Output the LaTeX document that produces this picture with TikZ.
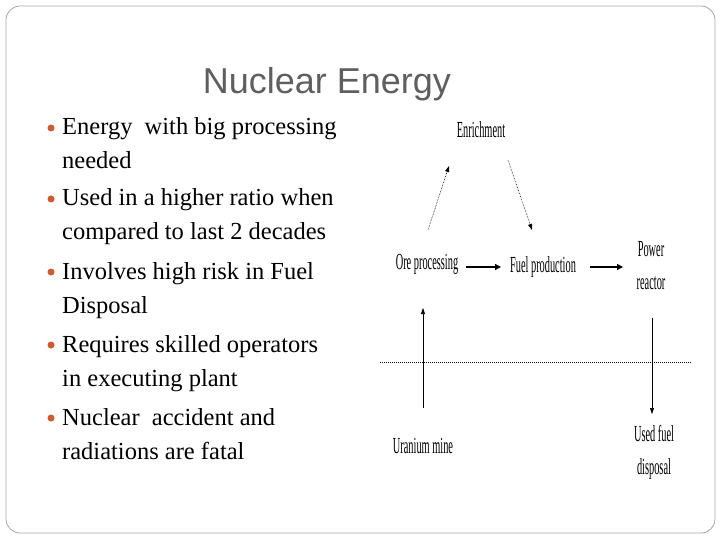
\documentclass[tikz,border=0pt]{standalone}
\usepackage{fontspec}
\setmainfont{Liberation Serif}
\newfontfamily\titlefont{Liberation Sans}
\usetikzlibrary{arrows.meta}
\definecolor{bul}{RGB}{214,90,40}
\definecolor{ttl}{RGB}{95,95,95}
\newcommand{\cnd}[1]{\scalebox{0.45}[1]{#1}}
\begin{document}
\begin{tikzpicture}[x=1pt,y=-1pt,
  lbl/.style={font=\fontsize{23}{25}\selectfont, align=center, inner sep=0pt},
  btxt/.style={font=\fontsize{24.5}{34}\selectfont, anchor=base west, inner sep=0pt},
  dot/.style={circle, fill=bul, inner sep=0pt, minimum size=7pt},
  sarr/.style={line width=1.2pt, -{Triangle[length=6pt,width=6pt]}},
  darr/.style={densely dotted, line width=0.6pt, -{Triangle[length=6pt,width=4pt]}},
  tarr/.style={line width=0.6pt, -{Triangle[length=6pt,width=4pt]}}]
\useasboundingbox (0,0) rectangle (720,540);
\draw[gray!70, line width=0.8pt, rounded corners=14pt] (6,6) rectangle (715,533);
\node[font=\titlefont\fontsize{36}{40}\selectfont, text=ttl] (title) at (327,84) {Nuclear Energy};
\foreach \y/\t/\u [count=\i] in {128/{Energy \ with big processing}/needed,
  199/{Used in a higher ratio when}/{compared to last 2 decades},
  272/{Involves high risk in Fuel}/Disposal,
  345/{Requires skilled operators}/{in executing plant},
  418/{Nuclear \ accident and}/{radiations are fatal}}{
  \node[dot] (d\i) at (51,\y) {};
  \node[btxt] (a\i) at (62,\y+7) {\t};
  \node[btxt] (b\i) at (62,\y+41) {\u};
}
\node[lbl] (enr) at (481,130) {\cnd{Enrichment}};
\node[lbl] (ore) at (427,264) {\cnd{Ore processing}};
\node[lbl] (fuel) at (543,267) {\cnd{Fuel production}};
\node[lbl] (pow) at (651,266) {\cnd{Power}\\[8pt]\cnd{reactor}};
\node[lbl] (ura) at (423,446) {\cnd{Uranium mine}};
\node[lbl] (used) at (654,452) {\cnd{Used fuel}\\[8pt]\cnd{disposal}};
\coordinate (o1) at (428,230); \coordinate (e1) at (449,166);
\coordinate (e2) at (508,160); \coordinate (f1) at (532,230);
\draw[darr] (o1) -- (e1);
\draw[darr] (e2) -- (f1);
\coordinate (oa) at (466,267); \coordinate (ob) at (501,267);
\coordinate (fa) at (590,267); \coordinate (fb) at (623,267);
\draw[sarr] (oa) -- (ob);
\draw[sarr] (fa) -- (fb);
\coordinate (u1) at (423,408); \coordinate (u2) at (423,308);
\draw[tarr] (u1) -- (u2);
\coordinate (p1) at (652,318); \coordinate (p2) at (652,414);
\draw[tarr] (p1) -- (p2);
\coordinate (h1) at (380,362); \coordinate (h2) at (692,362);
\draw[densely dotted, line width=1pt] (h1) -- (h2);
\end{tikzpicture}
\end{document}
